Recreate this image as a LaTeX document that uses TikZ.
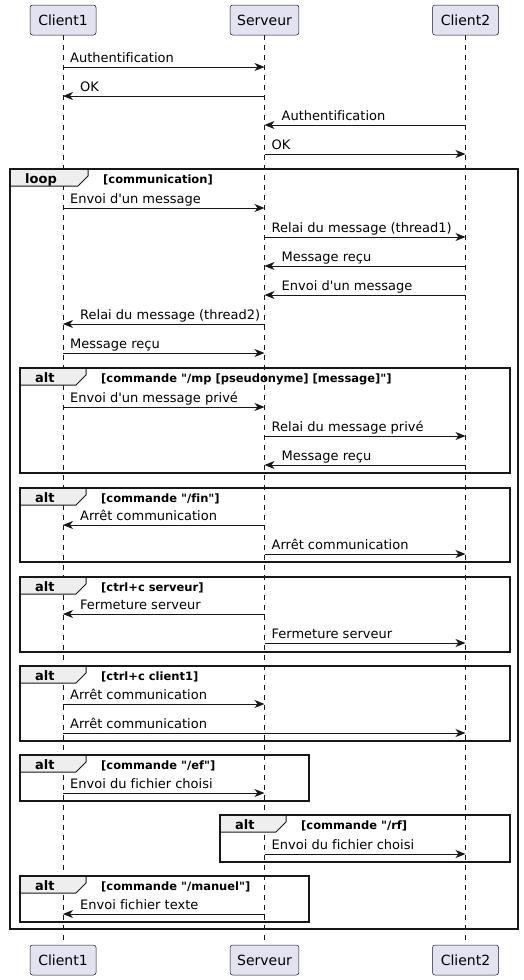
\documentclass[tikz,border=0pt]{standalone}
\usepackage{fontspec}
\newfontfamily\umlfont[Ligatures=NoCommon]{DejaVu Sans}
\usetikzlibrary{arrows.meta,calc}
\definecolor{umlline}{HTML}{181818}
\definecolor{umlpart}{HTML}{E2E2F0}
\definecolor{umltab}{HTML}{EEEEEE}
\tikzset{
	participant/.style={draw=umlline, line width=0.5pt, fill=umlpart, rounded corners=2.5pt, minimum height=30pt, minimum width=66pt, inner xsep=7pt, font=\umlfont\fontsize{14}{16}\selectfont},
	lifeline/.style={draw=umlline, line width=0.5pt, dash pattern=on 5pt off 5pt},
	msg/.style={draw=umlline, line width=1pt, -{Stealth[length=10pt,width=8pt,inset=3pt]}},
	msglabel/.style={anchor=base west, inner sep=0pt, text=black, font=\umlfont\fontsize{13}{15}\selectfont},
	framebox/.style={draw=umlline, line width=1.5pt},
	frametab/.style={draw=umlline, line width=1pt, fill=umltab},
	kindlabel/.style={anchor=base west, inner sep=0pt, font=\umlfont\bfseries\fontsize{13}{15}\selectfont},
	condlabel/.style={anchor=base west, inner sep=0pt, font=\umlfont\bfseries\fontsize{11.5}{13}\selectfont},
}
% message: from, to, row ; label on the sender side or after the arrow head
\def\msgto(#1,#2,#3)#4{\draw[msg] (#1 |- 0,#3) -- (#2 |- 0,#3); \node[msglabel] (lbl#3) at ($(#1 |- 0,#3)+(7,-5)$) {#4};}
\def\msgback(#1,#2,#3)#4{\draw[msg] (#1 |- 0,#3) -- (#2 |- 0,#3); \node[msglabel] (lbl#3) at ($(#2 |- 0,#3)+(17,-5)$) {#4};}
% frame: corners, tab width, kind, condition
\def\umlframe(#1,#2,#3,#4)#5#6#7{%
	\draw[frametab] (#1,#2) -- ++(#5,0) -- ++(0,7) -- ++(-10,10) -- ($(#1,#2)+(0,17)$) -- cycle;
	\draw[framebox] (#1,#2) rectangle (#3,#4);
	\node[kindlabel] (kind#2) at ($(#1,#2)+(15,14)$) {#6};
	\node[condlabel] (cond#2) at ($(#1,#2)+(#5+15,14)$) {#7};}

\begin{document}
\begin{tikzpicture}[x=1pt, y=-1pt]
		%%%%% START %%%%%
		\useasboundingbox (0,0) rectangle (524,980);
		
		\node[participant] (c1) at (63,20) {Client1};
		\node[participant] (srv) at (264.5,20) {Serveur};
		\node[participant] (c2) at (465.5,20) {Client2};
		\node[participant] (c1b) at (63,960) {Client1};
		\node[participant] (srvb) at (264.5,960) {Serveur};
		\node[participant] (c2b) at (465.5,960) {Client2};
		
		\draw[lifeline] (c1.south) -- (c1b.north);
		\draw[lifeline] (srv.south) -- (srvb.north);
		\draw[lifeline] (c2.south) -- (c2b.north);
		
		\msgto(c1,srv,67){Authentification}
		\msgback(srv,c1,96){OK}
		\msgback(c2,srv,125){Authentification}
		\msgto(srv,c2,154){OK}
		
		\umlframe(10,169,518,929){78}{loop}{[communication]}
		\msgto(c1,srv,208){Envoi d'un message}
		\msgto(srv,c2,237){Relai du message (thread1)}
		\msgback(c2,srv,266){Message reçu}
		\msgback(c2,srv,295){Envoi d'un message}
		\msgback(srv,c1,324){Relai du message (thread2)}
		\msgto(c1,srv,353){Message reçu}
		
		\umlframe(20,368,510,473){66}{alt}{[commande "/mp [pseudonyme] [message]"]}
		\msgto(c1,srv,407){Envoi d'un message privé}
		\msgto(srv,c2,436){Relai du message privé}
		\msgback(c2,srv,465){Message reçu}
		
		\umlframe(20,488,510,562){66}{alt}{[commande "/fin"]}
		\msgback(srv,c1,525){Arrêt communication}
		\msgto(srv,c2,554){Arrêt communication}
		
		\umlframe(20,577,510,652){66}{alt}{[ctrl+c serveur]}
		\msgback(srv,c1,614){Fermeture serveur}
		\msgto(srv,c2,643){Fermeture serveur}
		
		\umlframe(20,666,510,741){66}{alt}{[ctrl+c client1]}
		\msgto(c1,srv,704){Arrêt communication}
		\msgto(c1,c2,733){Arrêt communication}
		
		\umlframe(20,755,309,801){66}{alt}{[commande "/ef"]}
		\msgto(c1,srv,793){Envoi du fichier choisi}
		
		\umlframe(220,815,510,862){66}{alt}{[commande "/rf]}
		\msgto(srv,c2,854){Envoi du fichier choisi}
		
		\umlframe(20,876,309,922){66}{alt}{[commande "/manuel"]}
		\msgback(srv,c1,914){Envoi fichier texte}
		
		%%%%% END %%%%%
\end{tikzpicture}
\end{document}
